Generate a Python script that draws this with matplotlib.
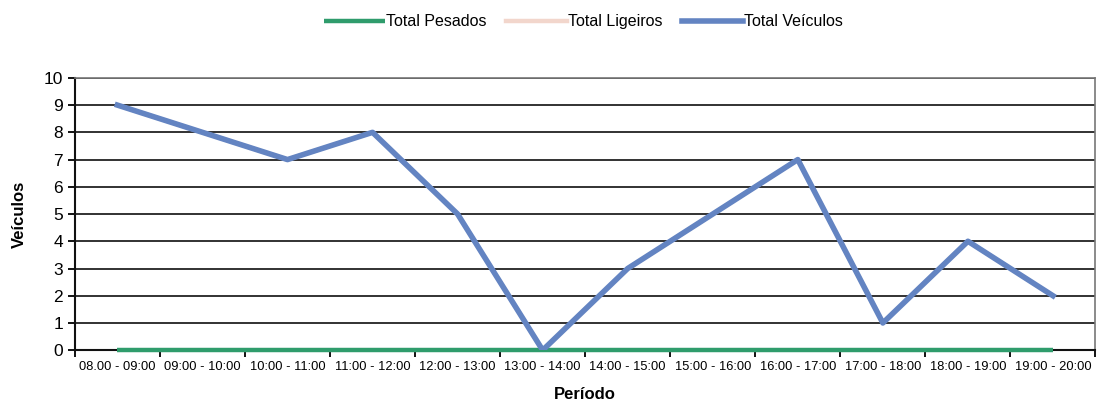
import numpy as np
import matplotlib.pyplot as plt
from matplotlib.ticker import FixedLocator

plt.rcParams['font.family'] = ['Liberation Sans', 'DejaVu Sans']

periodos = ['08.00 - 09:00', '09:00 - 10:00', '10:00 - 11:00', '11:00 - 12:00',
            '12:00 - 13:00', '13:00 - 14:00', '14:00 - 15:00', '15:00 - 16:00',
            '16:00 - 17:00', '17:00 - 18:00', '18:00 - 19:00', '19:00 - 20:00']
total_pesados = [0, 0, 0, 0, 0, 0, 0, 0, 0, 0, 0, 0]
total_ligeiros = [9, 8, 7, 8, 5, 0, 3, 5, 7, 1, 4, 2]
total_veiculos = [9, 8, 7, 8, 5, 0, 3, 5, 7, 1, 4, 2]

x = np.arange(len(periodos))

fig = plt.figure(figsize=(11.01, 4.12), dpi=100)
ax = fig.add_axes([0.068, 0.150, 0.927, 0.661])

# grelha horizontal preta
for v in range(1, 11):
    ax.axhline(v, color='#222222', lw=1.3, zorder=1)

ax.plot(x, total_pesados, color='#2f9c6c', lw=3.2, label='Total Pesados', zorder=3,
        solid_capstyle='butt', clip_on=False)
ax.plot(x, total_ligeiros, color='#f2d6cc', lw=3.2, label='Total Ligeiros', zorder=2)
ax.plot(x, total_veiculos, color='#6384c2', lw=4, label='Total Veículos', zorder=4)

ax.set_xlim(-0.5, len(periodos) - 0.5)
ax.set_ylim(0, 10)
ax.set_yticks(range(0, 11))
ax.set_xticks(x)
ax.set_xticklabels(periodos, fontsize=9.3)
ax.xaxis.set_minor_locator(FixedLocator(np.arange(-0.5, len(periodos), 1)))
ax.tick_params(axis='x', which='major', length=0, pad=8)
ax.tick_params(axis='x', which='minor', length=5, width=1.3, direction='out')
ax.tick_params(axis='y', length=5, width=1.3, labelsize=12.5, direction='out')

for s in ['left', 'bottom']:
    ax.spines[s].set_color('#111111')
    ax.spines[s].set_linewidth(1.5)
for s in ['top', 'right']:
    ax.spines[s].set_color('#777777')
    ax.spines[s].set_linewidth(1.2)

ax.set_xlabel('Período', fontsize=12, fontweight='bold', labelpad=10)
ax.set_ylabel('Veículos', fontsize=12, fontweight='bold', labelpad=12)

fig.legend(loc='upper center', bbox_to_anchor=(0.53, 1.0), ncol=3, frameon=False,
           fontsize=11.5, handlelength=3.8, handletextpad=0.1, columnspacing=1.2)

fig.savefig('out.png', dpi=100)
